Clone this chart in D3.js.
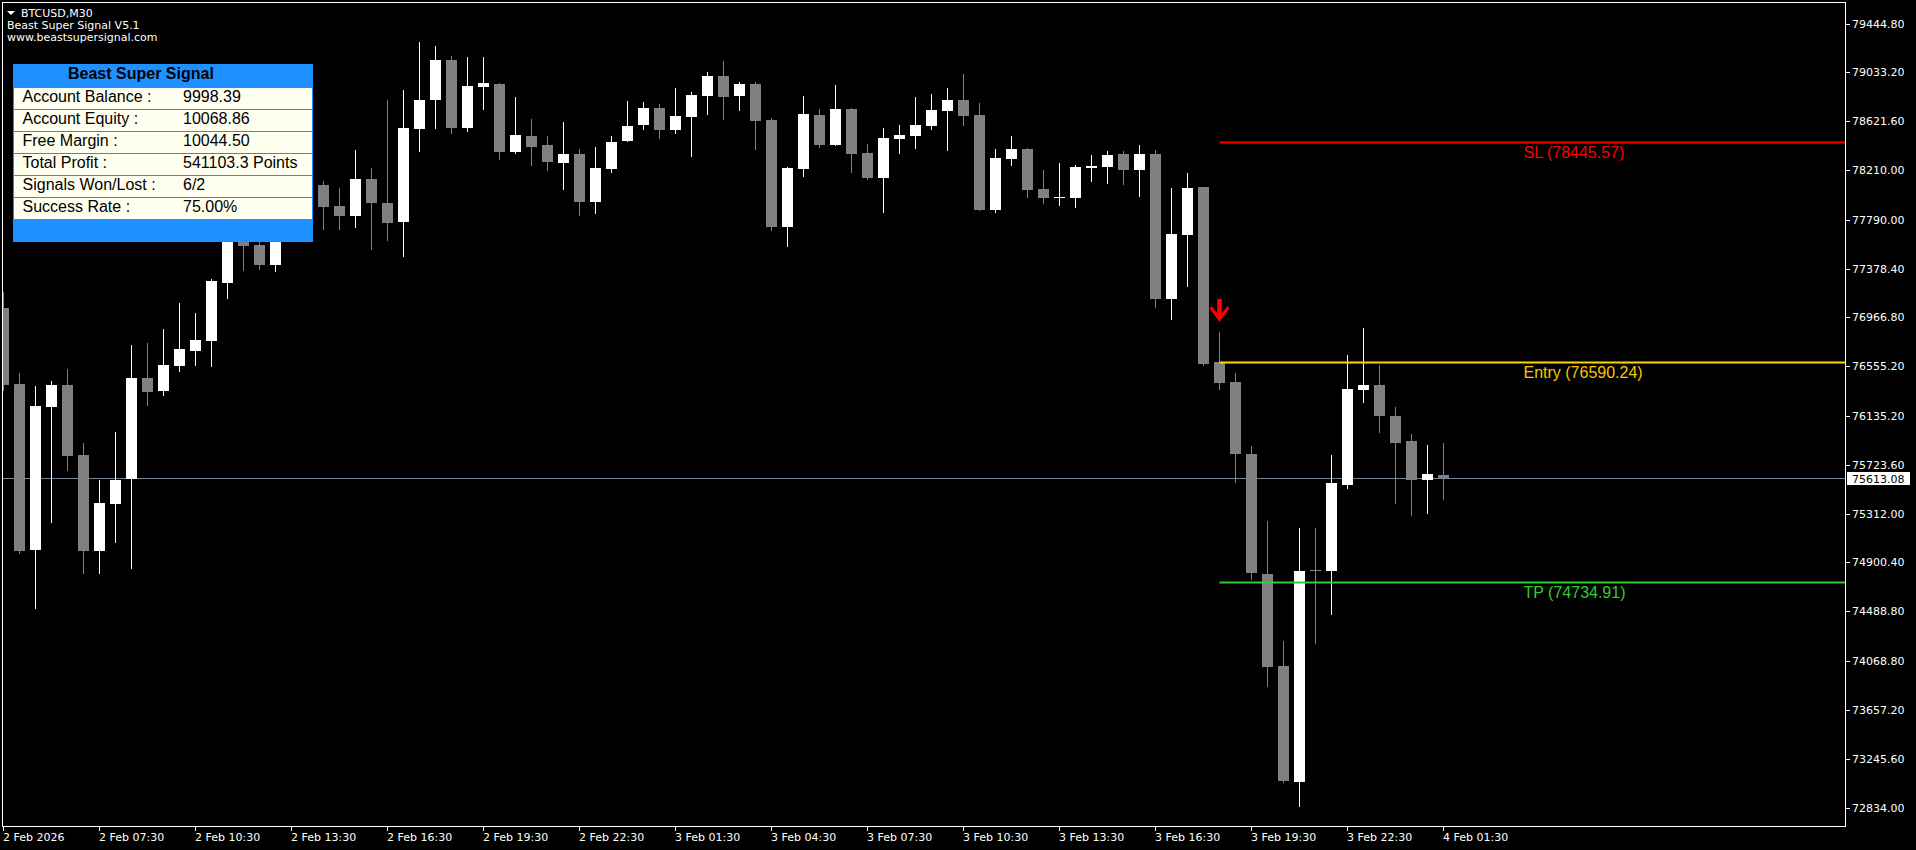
<!DOCTYPE html>
<html lang="en">
<head>
	<meta charset="UTF-8">
	<title>BTCUSD,M30</title>
	<script src="https://cdn.jsdelivr.net/npm/d3@7"></script>
	<style>
	html, body {
		margin: 0;
		padding: 0;
		background: #000;
	}
	svg {
		display: block;
	}
	.axis text {
		fill: #fff;
		font-family: "DejaVu Sans", sans-serif;
		font-size: 11px;
	}
	.axis line {
		stroke: #fff;
	}
	.axis path {
		display: none;
	}
	</style>
</head>
<body>
	<div id="chart"></div>
	<script>
		// M30 bars, first bar 2 Feb 04:30, last bar 4 Feb 01:30
		const opens = [77050.1, 76409.3, 75012.1, 76215.4, 76400.8, 75810.6, 75001.1, 75400.0, 75608.2, 76459.9,
			76352.8, 76563.6, 76690.1, 76774.4, 77263.5, 77724.7, 77581.3, 77412.7, 77834.3, 77749.9,
			78087.3, 77910.2, 77825.9, 78137.9, 77935.5, 77775.3, 78559.5, 78804.0, 79141.3, 78567.9,
			78913.6, 78938.9, 78365.5, 78500.4, 78424.5, 78272.8, 78348.7, 77943.9, 78222.2, 78458.3,
			78593.2, 78736.5, 78551.0, 78660.6, 78837.7, 79006.4, 78837.7, 78938.9, 78635.4, 77733.1,
			78222.2, 78677.5, 78424.5, 78728.1, 78357.1, 78146.3, 78475.1, 78500.4, 78584.8, 78711.2,
			78804.0, 78677.5, 77876.5, 78306.5, 78390.8, 78053.5, 77981.9, 77977.6, 78230.6, 78239.0,
			78348.7, 78213.7, 78348.7, 77126.0, 77665.7, 78070.4, 76594.8, 76426.1, 75819.0, 74807.2,
			74031.4, 73053.3, 74838.0, 74832.5, 75557.6, 76358.7, 76400.8, 76139.4, 75928.7, 75599.8,
			75646.0];
		const highs = [77187.6, 76502.0, 76392.4, 76434.6, 76535.8, 75909.2, 75599.8, 76004.5, 76738.1, 76755.0,
			76873.0, 77092.3, 77008.0, 77294.6, 77775.3, 77758.4, 77640.4, 77918.6, 77960.8, 78129.4,
			78121.0, 78062.0, 78382.4, 78230.6, 78804.0, 78888.3, 79293.1, 79259.3, 79175.0, 79166.6,
			79166.6, 78947.3, 78829.3, 78643.8, 78500.4, 78618.5, 78390.8, 78407.7, 78500.4, 78795.6,
			78787.1, 78770.3, 78905.2, 78871.5, 79040.1, 79132.8, 78955.8, 78955.8, 78652.2, 78235.0,
			78837.7, 78728.1, 78930.5, 78736.5, 78432.6, 78567.9, 78593.2, 78829.3, 78854.6, 78905.2,
			79023.2, 78778.7, 78390.8, 78500.4, 78395.0, 78213.7, 78272.8, 78255.9, 78340.2, 78373.9,
			78373.9, 78424.5, 78382.4, 78062.0, 78188.4, 78074.0, 76847.7, 76502.0, 75886.5, 75254.1,
			74242.3, 75195.1, 75195.1, 75810.6, 76653.8, 76881.5, 76569.5, 76215.4, 75987.7, 75894.9,
			75911.8];
		const lows = [76350.2, 74975.8, 74514.6, 75239.7, 75678.2, 74809.7, 74809.7, 75071.1, 74851.9, 76226.3,
			76310.6, 76513.0, 76563.6, 76555.2, 77126.0, 77364.6, 77370.5, 77356.2, 77657.2, 77674.1,
			77707.8, 77707.8, 77724.7, 77539.2, 77615.1, 77480.1, 78365.5, 78559.5, 78517.3, 78534.1,
			78719.7, 78298.1, 78348.7, 78247.5, 78205.3, 78045.1, 77825.9, 77842.7, 78188.4, 78449.8,
			78551.0, 78475.1, 78517.3, 78323.4, 78677.5, 78635.4, 78711.2, 78382.4, 77699.4, 77564.5,
			78154.7, 78399.2, 78416.0, 78188.4, 78129.4, 77851.2, 78348.7, 78390.8, 78551.0, 78373.9,
			78584.8, 77868.1, 77851.2, 78247.5, 77977.6, 77927.1, 77910.2, 77893.4, 78112.6, 78095.7,
			78087.3, 77986.1, 77052.6, 76948.9, 77229.7, 76561.0, 76358.7, 75577.0, 74756.6, 73854.3,
			73044.8, 72842.5, 74216.9, 74461.5, 75524.0, 76249.1, 75996.1, 75397.4, 75296.2, 75313.0,
			75431.1];
		const closes = [76400.8, 75003.6, 76223.8, 76400.8, 75804.7, 75003.6, 75405.9, 75599.8, 76459.9, 76344.3,
			76569.5, 76704.4, 76780.3, 77277.8, 77724.7, 77575.4, 77412.7, 77834.3, 77749.9, 78045.1,
			77904.3, 77825.9, 78137.9, 77935.5, 77766.8, 78567.9, 78804.0, 79141.3, 78567.9, 78922.0,
			78947.3, 78365.5, 78508.9, 78407.7, 78281.2, 78348.7, 77943.9, 78230.6, 78449.8, 78584.8,
			78736.5, 78551.0, 78669.1, 78846.2, 79006.4, 78829.3, 78938.9, 78626.9, 77733.1, 78230.6,
			78685.9, 78424.5, 78728.1, 78348.7, 78146.3, 78483.6, 78508.9, 78593.2, 78719.7, 78804.0,
			78669.1, 77876.5, 78314.9, 78390.8, 78045.1, 77977.6, 77986.1, 78239.0, 78247.5, 78340.2,
			78213.7, 78348.7, 77126.0, 77674.1, 78062.0, 76577.9, 76420.2, 75821.6, 74818.1, 74023.0,
			73061.7, 74832.5, 74833.0, 75574.5, 76367.1, 76400.8, 76139.4, 75911.8, 75599.8, 75650.4,
			75613.08];

		// one label every 6 bars
		const timeLabels = ["2 Feb 2026", "2 Feb 07:30", "2 Feb 10:30", "2 Feb 13:30", "2 Feb 16:30", "2 Feb 19:30",
			"2 Feb 22:30", "3 Feb 01:30", "3 Feb 04:30", "3 Feb 07:30", "3 Feb 10:30", "3 Feb 13:30",
			"3 Feb 16:30", "3 Feb 19:30", "3 Feb 22:30", "4 Feb 01:30"];
		const priceTicks = [79444.80, 79033.20, 78621.60, 78210.00, 77790.00, 77378.40, 76966.80, 76555.20, 76135.20,
			75723.60, 75312.00, 74900.40, 74488.80, 74068.80, 73657.20, 73245.60, 72834.00];

		// signal levels
		const levelNames = ["SL", "Entry", "TP"];
		const levelPrices = [78445.57, 76590.24, 74734.91];
		const levelColors = ["#ff0000", "#ffd700", "#32cd32"];
		const signalBar = 76;
		const levelLabelBar = 95;

		// info panel
		const panelTitle = "Beast Super Signal";
		const panelLabels = ["Account Balance :", "Account Equity :", "Free Margin :", "Total Profit :", "Signals Won/Lost :", "Success Rate :"];
		const panelValues = ["9998.39", "10068.86", "10044.50", "541103.3 Points", "6/2", "75.00%"];

		const headerLines = ["BTCUSD,M30", "Beast Super Signal V5.1", "www.beastsupersignal.com"];

		const width = 1916, height = 850;
		const plot = { left: 3, top: 3, right: 1845, bottom: 826 };

		const x = d3.scaleLinear([0, 90], [3.5, 1443.5]);
		const y = d3.scaleLinear([72834, 79444.8], [808, 24]);

		const svg = d3.select("#chart")
			.append("svg")
			.attr("width", width)
			.attr("height", height)
			.style("background", "#000");

		svg.append("defs")
			.append("clipPath")
			.attr("id", "plotclip")
			.append("rect")
			.attr("x", plot.left)
			.attr("y", plot.top)
			.attr("width", plot.right - plot.left)
			.attr("height", plot.bottom - plot.top);

		const chart = svg.append("g").attr("clip-path", "url(#plotclip)");

		// bid line
		const bid = closes[closes.length - 1];
		const bidY = Math.round(y(bid)) + 0.5;
		chart.append("line")
			.attr("x1", plot.left)
			.attr("x2", plot.right)
			.attr("y1", bidY)
			.attr("y2", bidY)
			.attr("stroke", "#778899");

		// candles
		const bars = d3.range(opens.length).map(i => ({ i: i, o: opens[i], h: highs[i], l: lows[i], c: closes[i] }));
		const barColor = d => d.c >= d.o ? "#ffffff" : "#808080";
		const candles = chart.append("g").attr("shape-rendering", "crispEdges");
		candles.selectAll(".wick")
			.data(bars)
			.join("line")
			.attr("class", "wick")
			.attr("x1", d => x(d.i))
			.attr("x2", d => x(d.i))
			.attr("y1", d => y(d.h))
			.attr("y2", d => y(d.l))
			.attr("stroke", barColor);
		candles.selectAll(".body")
			.data(bars)
			.join("rect")
			.attr("class", "body")
			.attr("x", d => x(d.i) - 5.5)
			.attr("width", 11)
			.attr("y", d => y(Math.max(d.o, d.c)))
			.attr("height", d => Math.max(1, Math.abs(y(d.o) - y(d.c))))
			.attr("fill", barColor);

		// SL / Entry / TP lines
		const levels = chart.append("g");
		levelPrices.forEach((p, k) => {
			levels.append("line")
				.attr("x1", x(signalBar))
				.attr("x2", plot.right)
				.attr("y1", y(p))
				.attr("y2", y(p))
				.attr("stroke", levelColors[k])
				.attr("stroke-width", 2);
			levels.append("text")
				.attr("x", x(levelLabelBar))
				.attr("y", y(p) + 15.5)
				.attr("fill", levelColors[k] == "#ffd700" ? "#f7c600" : levelColors[k])
				.style("font-family", "'Liberation Sans', Arial, sans-serif")
				.style("font-size", "16px")
				.text(levelNames[k] + " (" + p.toFixed(2) + ")");
		});

		// sell arrow above the signal bar
		const ax = x(signalBar), ay = y(highs[signalBar]) - 10;
		chart.append("path")
			.attr("transform", "translate(" + ax + "," + ay + ")")
			.attr("d", "M-2.3,-23 L2.3,-23 L2.3,-9 L8,-16 L9.8,-13.5 L0,0 L-9.8,-13.5 L-8,-16 L-2.3,-9 Z")
			.attr("fill", "#ff0000");

		// frame
		svg.append("rect")
			.attr("x", 2.5)
			.attr("y", 2.5)
			.attr("width", plot.right - 2)
			.attr("height", plot.bottom - 2)
			.attr("fill", "none")
			.attr("stroke", "#fff")
			.attr("shape-rendering", "crispEdges");

		// price axis
		svg.append("g")
			.attr("class", "axis")
			.attr("transform", "translate(" + (plot.right + 1) + ",0)")
			.attr("shape-rendering", "crispEdges")
			.call(d3.axisRight(y).tickValues(priceTicks).tickFormat(d3.format(".2f")).tickSize(4).tickPadding(2).offset(0));

		// bid price box
		svg.append("rect")
			.attr("x", plot.right + 2)
			.attr("y", bidY - 6.5)
			.attr("width", 63)
			.attr("height", 13)
			.attr("fill", "#fff");
		svg.append("text")
			.attr("x", plot.right + 7)
			.attr("y", bidY + 4)
			.attr("fill", "#000")
			.style("font-family", "'DejaVu Sans', sans-serif")
			.style("font-size", "11px")
			.text(bid.toFixed(2));

		// time axis
		const timeAxis = svg.append("g")
			.attr("class", "axis")
			.attr("transform", "translate(0," + (plot.bottom + 0.5) + ")")
			.attr("shape-rendering", "crispEdges")
			.call(d3.axisBottom(x)
				.tickValues(timeLabels.map((t, i) => i * 6))
				.tickFormat((d, i) => timeLabels[i])
				.tickSize(4)
				.tickPadding(3)
				.offset(0));
		timeAxis.selectAll("text")
			.attr("text-anchor", "start")
			.attr("x", -0.5);

		// header text
		const header = svg.append("g")
			.style("font-family", "'DejaVu Sans', sans-serif")
			.style("font-size", "11px")
			.attr("fill", "#fff");
		header.append("path")
			.attr("d", "M7,11 L15,11 L11,15 Z")
			.attr("fill", "#fff");
		header.selectAll("text")
			.data(headerLines)
			.join("text")
			.attr("x", (d, i) => i == 0 ? 21 : 7)
			.attr("y", (d, i) => 16.5 + i * 12.4)
			.text(d => d);

		// info panel
		const panel = { x: 13, y: 64, w: 300, rowTop: 88, rowH: 22 };
		const info = svg.append("g")
			.style("font-family", "'Liberation Sans', Arial, sans-serif")
			.style("font-size", "16px");
		info.append("rect")
			.attr("x", panel.x)
			.attr("y", panel.y)
			.attr("width", panel.w)
			.attr("height", 178)
			.attr("fill", "#1e90ff");
		info.append("text")
			.attr("x", panel.x + 55)
			.attr("y", panel.y + 14.5)
			.style("font-weight", "bold")
			.attr("fill", "#000")
			.text(panelTitle);
		const rows = info.selectAll(".row")
			.data(panelLabels)
			.join("g")
			.attr("class", "row")
			.attr("transform", (d, i) => "translate(" + panel.x + "," + (panel.rowTop + i * panel.rowH) + ")");
		rows.append("rect")
			.attr("x", 1)
			.attr("width", panel.w - 2)
			.attr("height", panel.rowH - 1)
			.attr("fill", "#fffff0");
		rows.append("text")
			.attr("x", 9.5)
			.attr("y", 14)
			.attr("fill", "#000")
			.text(d => d);
		rows.append("text")
			.attr("x", 170)
			.attr("y", 14)
			.attr("fill", "#000")
			.text((d, i) => panelValues[i]);
	</script>
</body>
</html>
